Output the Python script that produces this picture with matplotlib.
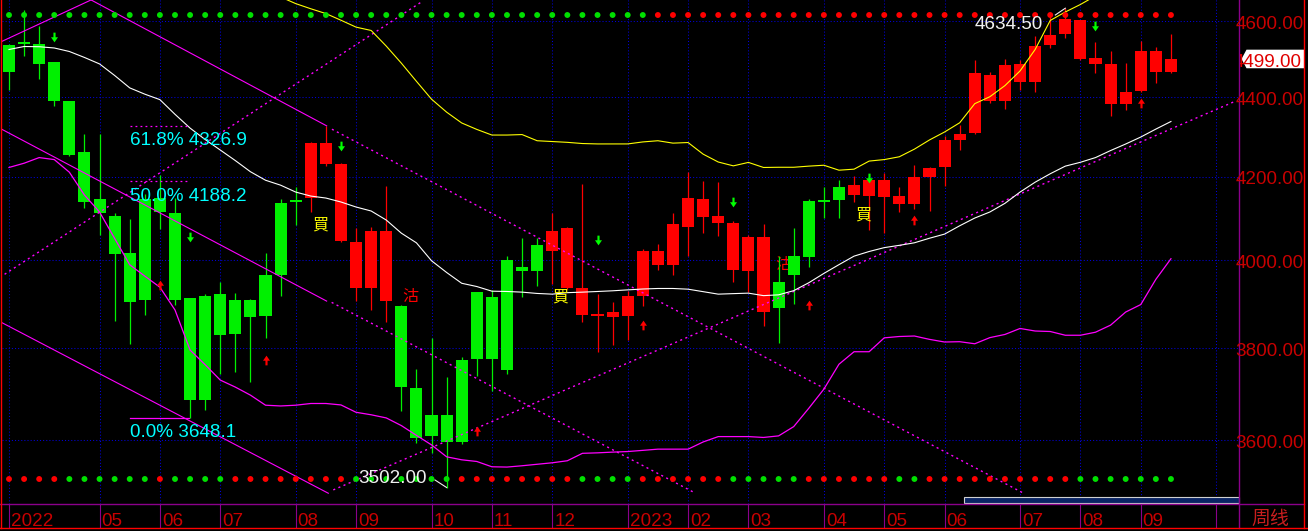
import matplotlib
matplotlib.use("Agg")
import matplotlib.pyplot as plt
import numpy as np
from matplotlib.patches import Polygon, Rectangle
from matplotlib.lines import Line2D
from matplotlib.transforms import Bbox, IdentityTransform, blended_transform_factory

plt.rcParams['font.family'] = ['Liberation Sans', 'Noto Sans CJK SC', 'DejaVu Sans']

W, H = 1308, 531
nan = np.nan

# weekly candles
opens = [4537.1, 4538.9, 4538.9, 4489.9, 4390.8, 4260.0, 4145.3, 4104.3, 4016.9, 4145.3,
         4147.0, 4112.3, 3912.0, 3916.6, 3921.1, 3907.5, 3907.5, 3964.3, 4135.7, 4141.2,
         4147.0, 4230.8, 4044.8, 3934.8, 3934.8, 3905.2, 3893.9, 3711.5, 3652.8, 3652.8,
         3772.4, 3925.7, 3914.4, 4000.7, 3984.8, 4034.6, 4020.1, 3934.8, 3874.1, 3872.3,
         3869.6, 3871.2, 3917.3, 3989.3, 3987.7, 4078.5, 4102.6, 4088.2, 3976.4, 3974.1,
         3880.9, 3948.4, 4010.4, 4140.5, 4140.5, 4174.2, 4154.9, 4152.5, 4150.1, 4133.3,
         4133.3, 4198.3, 4223.3, 4290.8, 4309.0, 4389.0, 4389.0, 4438.3, 4438.3, 4535.3,
         4564.1, 4497.8, 4484.7, 4381.5, 4381.5, 4414.3, 4464.5, 4464.5]
highs = [4539.7, 4629.7, 4586.9, 4491.0, 4391.0, 4305.8, 4305.8, 4111.5, 4097.1, 4157.3,
         4204.0, 4147.7, 3913.0, 3921.1, 3950.0, 3923.4, 3909.8, 4016.9, 4145.3, 4173.5,
         4285.8, 4326.5, 4233.0, 4075.4, 4077.8, 4176.6, 3896.0, 3752.8, 3821.1, 3736.1,
         3779.6, 3927.0, 3930.2, 4010.4, 4051.7, 4051.7, 4111.5, 4077.8, 4181.6, 3921.1,
         3902.9, 3927.9, 4024.9, 4036.9, 4111.5, 4210.8, 4188.7, 4186.3, 4092.3, 4058.5,
         4085.0, 4010.4, 4075.4, 4145.3, 4174.2, 4191.1, 4200.8, 4200.8, 4208.3, 4174.2,
         4228.3, 4223.3, 4300.8, 4328.3, 4495.2, 4463.7, 4497.8, 4495.2, 4560.7, 4618.9,
         4634.5, 4604.0, 4545.0, 4518.7, 4487.3, 4547.6, 4531.9, 4565.9]
lows = [4417.3, 4505.6, 4447.2, 4376.5, 4250.0, 4122.9, 4060.2, 3859.1, 3809.1, 3874.1,
        4073.0, 3896.8, 3648.1, 3664.4, 3742.0, 3747.0, 3725.2, 3821.8, 3916.6, 4082.6,
        4114.7, 4225.8, 4042.0, 3905.2, 3885.4, 3856.8, 3662.2, 3595.0, 3573.1, 3502.0,
        3591.7, 3738.3, 3705.6, 3743.1, 3915.0, 3940.0, 3943.9, 3932.5, 3858.2, 3790.4,
        3805.9, 3817.3, 3894.5, 3978.0, 3965.0, 4008.6, 4064.1, 4056.9, 3949.1, 3925.0,
        3849.1, 3811.4, 3899.1, 3983.2, 4099.5, 4099.5, 4138.1, 4071.3, 4064.1, 4114.0,
        4121.2, 4116.4, 4176.6, 4265.8, 4305.0, 4384.0, 4369.0, 4419.0, 4412.1, 4529.2,
        4555.4, 4496.0, 4461.1, 4351.5, 4366.5, 4413.0, 4435.7, 4461.9]
closes = [4464.5, 4538.0, 4485.5, 4389.0, 4254.0, 4138.8, 4112.3, 4015.2, 3903.6, 3908.2,
          4113.2, 3908.2, 3686.1, 3686.1, 3828.6, 3830.9, 3869.6, 3871.8, 3964.3, 4139.3,
          4283.3, 4283.3, 4230.8, 4041.7, 4068.9, 4068.9, 3714.3, 3605.7, 3610.0, 3597.1,
          3597.1, 3775.2, 3775.2, 3751.8, 3974.1, 3973.4, 4068.2, 4075.4, 3934.8, 3874.1,
          3880.3, 3916.6, 4020.1, 4020.1, 4085.0, 4147.7, 4145.3, 4104.3, 4088.2, 4053.7,
          4053.7, 3890.0, 3965.0, 4008.0, 4138.0, 4142.9, 4179.0, 4191.1, 4191.1, 4152.5,
          4198.3, 4220.8, 4290.8, 4305.8, 4461.1, 4455.8, 4482.1, 4484.7, 4534.5, 4563.3,
          4605.4, 4602.7, 4500.4, 4484.7, 4413.5, 4518.7, 4518.7, 4499.0]

ma_white = [4524, 4531.9, 4531.3, 4528, 4518.7, 4503, 4486, 4455.8, 4423.6, 4407.4,
            4393.3, 4355.8, 4320.8, 4292, 4265.8, 4239.5, 4212, 4191.1, 4179, 4162.2,
            4152.5, 4147.7, 4138.1, 4126, 4116.4, 4094.7, 4063.4, 4040.5, 3998.4, 3971.1,
            3946.1, 3938.6, 3927.9, 3927.2, 3925.7, 3922.7, 3921.1, 3924.5, 3925.7, 3927.2,
            3928.8, 3930.9, 3932.9, 3934.1, 3934.1, 3932.5, 3926.8, 3921.1, 3922.3, 3923.4,
            3917.7, 3919.5, 3929.1, 3947.3, 3968.9, 3989.3, 4009.2, 4020.1, 4029.2, 4034.6,
            4040.6, 4051.4, 4061.2, 4081, 4099.5, 4114, 4134.9, 4162.2, 4186.3, 4207,
            4225.8, 4235.3, 4247, 4264.5, 4280.8, 4298.3, 4318.3, 4337.5]
band_yellow = [nan] * 18 + [
            4665, 4647, 4633, 4620, 4602, 4583.5, 4574.6, 4533, 4488, 4440.6,
            4394.5, 4361.3, 4333.8, 4317.5, 4303.3, 4303.3, 4304.5, 4289, 4287, 4285,
            4282, 4281, 4281, 4281, 4286, 4289, 4283, 4284.5, 4255.5, 4236,
            4226.5, 4235, 4222.5, 4223, 4223, 4225.8, 4228, 4215.8, 4218.3, 4238.3,
            4242, 4249, 4268, 4291, 4311, 4334.3, 4383, 4400.8, 4429.5, 4467.6,
            4524, 4601.4, 4624.3, 4644.6, 4668, 4690, 4712, 4735, 4758, 4780]
band_magenta = [4222.5, 4233, 4247, 4242, 4210.8, 4155, 4114, 4051, 3989, 3962.7,
                3937, 3885, 3795, 3762.6, 3729, 3713.7, 3696.3, 3674.6, 3673, 3674.6,
                3678.3, 3678.3, 3675.2, 3659.4, 3654.1, 3647.4, 3631.1, 3610.4, 3590.3, 3565.4,
                3559.2, 3555.7, 3544.7, 3544.1, 3546.8, 3549.9, 3553, 3557.2, 3572.7, 3573.7,
                3575.2, 3576.4, 3578.9, 3581.4, 3581.4, 3581.4, 3596.5, 3607.8, 3607.8, 3607.8,
                3606, 3609.3, 3628.9, 3668, 3709.3, 3763.7, 3791.3, 3791.3, 3822.2, 3825.2,
                3826.3, 3818.8, 3812.9, 3813.6, 3809, 3822.7, 3829.8, 3843.2, 3837.5, 3836.4,
                3828, 3828, 3834.8, 3850.7, 3880.3, 3897.3, 3955.2, 4003.1]

top_signal = 'G' * 43 + 'R' * 35
bottom_signal = ('RRRR' + 'GGGGGG' + 'R' + 'GGGG' + 'RRRRRRRR' + 'GGGGGGG' + 'RRRRRRRR'
                 + 'GGGG' + 'RRRRRR' + 'GGGGG' + 'RRRRRR' + 'GG' + 'RRRRRRRRRR' + 'GGGGGGG')

month_idx = [0, 6, 10, 14, 19, 23, 28, 32, 36, 41, 45, 49, 54, 58, 62, 67, 71, 75, 80]
month_lbl = ['2022', '05', '06', '07', '08', '09', '10', '11', '12', '2023',
             '02', '03', '04', '05', '06', '07', '08', '09', '']

buy_arrow_idx = [10, 17, 31, 42, 53, 60, 75]
buy_arrow_px = [3943.2, 3773.5, 3620.2, 3851.8, 3896.1, 4093.9, 4385.3]
sell_arrow_idx = [3, 12, 22, 39, 48, 57, 72]
sell_arrow_px = [4556.8, 4054.9, 4276.5, 4047.7, 4137.3, 4197.6, 4586.1]

buy_tag_idx = [20.6, 36.55, 56.6]
buy_tag_px = [4082.6, 3914.4, 4106.7]
sell_tag_idx = [26.57, 51.3]
sell_tag_px = [3916.6, 3989.3]

fib_pct = ['61.8%', '50.0%', '0.0%']
fib_val = [4326.9, 4188.2, 3648.1]

# hand-drawn trend lines (candle index, price)
trend_solid = [([-0.5, 5.6], [4545, 4660]),
               ([5.3, 21.05], [4660, 4326.5]),
               ([-0.5, 21.05], [4318.3, 3905.2]),
               ([-0.5, 21.16], [3856.8, 3490.3])]
trend_dotted = [([21.4, 67.2], [4318, 3490.9]),
                ([21.38, 45.46], [3902.3, 3490.9]),
                ([21.49, 81.25], [3497.1, 4389]),
                ([-0.6, 27.35], [3959.8, 4652])]

price_ticks = [4600, 4400, 4200, 4000, 3800, 3600]
last_close = 4499.00
hi_idx, hi_val = 70, 4634.50
lo_idx, lo_val = 29, 3502.00

AXRED = '#c80000'
PURPLE = '#8b008b'
MAG = '#ff00ff'
FS = 13.6

fig = plt.figure(figsize=(W / 100, H / 100), dpi=100, facecolor='black')
ax = fig.add_axes([2 / W, 27 / H, 1237 / W, 504 / H])
ax.set_yscale('log')
ax.set_xlim(-0.464, 81.51)
ax.set_ylim(3468.4, 4656.8)
ax.set_axis_off()

# grid
for p in price_ticks:
    ax.axhline(p, color='#0000d8', lw=0.75, ls=(0, (1, 2)), zorder=1)
for i in month_idx:
    ax.axvline(i, color='#0000d8', lw=0.75, ls=(0, (1, 2)), zorder=1)

# trend lines
for xs, ys in trend_solid:
    ax.plot(xs, ys, color=MAG, lw=0.8, zorder=3)
for xs, ys in trend_dotted:
    ax.plot(xs, ys, color=MAG, lw=1.0, ls=(0, (1.5, 2.5)), zorder=3)

# candles
x = np.arange(len(opens))
o = np.array(opens); c = np.array(closes)
hi = np.array(highs); lo = np.array(lows)
col = np.where(c >= o, '#ff0000', '#00f000')
ax.vlines(x, lo, hi, colors=col, lw=0.9, zorder=2)
bot = np.minimum(o, c)
top = np.maximum(np.maximum(o, c), bot * 1.0011)
ax.bar(x, top - bot, bottom=bot, width=0.8, color=col, lw=0, zorder=2)

# indicator lines
ax.plot(x, ma_white, color='white', lw=0.8, zorder=3)
ax.plot(x, band_yellow, color='#ffff00', lw=0.8, zorder=3)
ax.plot(x, band_magenta, color=MAG, lw=0.9, zorder=3)

# fibonacci
for k, (pct, val) in enumerate(zip(fib_pct, fib_val)):
    ls = '-' if k == 2 else (0, (1.5, 2.5))
    ax.plot([8.0, 11.9], [val, val], color=MAG, lw=0.9, ls=ls, zorder=3)
    ax.annotate(f'{pct} {val:.1f}', xy=(8.0, val), xytext=(0, -19.5),
                textcoords='offset pixels', ha='left', va='baseline',
                color='#00ffff', fontsize=FS, zorder=6)

# signal dot rows
tr_top = blended_transform_factory(ax.transData, ax.transAxes)
ax.scatter(x, np.full(len(x), 1 - 15 / 504), s=18, lw=0, transform=tr_top, zorder=5,
           c=['#00e000' if s == 'G' else '#ff0000' for s in top_signal], clip_on=False)
ax.scatter(x, np.full(len(x), 1 - 479 / 504), s=18, lw=0, transform=tr_top, zorder=5,
           c=['#00e000' if s == 'G' else '#ff0000' for s in bottom_signal], clip_on=False)

# arrows
down_arrow = [(-0.22, 1), (0.22, 1), (0.22, 0.05), (0.72, 0.05), (0, -1), (-0.72, 0.05), (-0.22, 0.05)]
up_arrow = [(px, -py) for px, py in down_arrow]
ax.plot(sell_arrow_idx, sell_arrow_px, ls='', marker=down_arrow, ms=7, color='#00ff00',
        mew=0, zorder=5)
ax.plot(buy_arrow_idx, buy_arrow_px, ls='', marker=up_arrow, ms=7, color='#ff0000',
        mew=0, zorder=5)

# buy / sell tags
for i, p in zip(buy_tag_idx, buy_tag_px):
    ax.text(i, p, '買', color='#ffff00', fontsize=11.5, ha='center', va='center',
            family=['Noto Sans CJK TC'], zorder=5)
for i, p in zip(sell_tag_idx, sell_tag_px):
    ax.text(i, p, '沽', color='#ff0000', fontsize=11.5, ha='center', va='center',
            family=['Noto Sans CJK TC'], zorder=1.5)

# high / low labels
fig.canvas.draw()
for idx, val, dx, dy, lx, ly in [(hi_idx, hi_val, -22, -21, -10, -6.8),
                                 (lo_idx, lo_val, -20, 4.2, -11.6, 7.5)]:
    ax.annotate(f'{val:.2f}', xy=(idx, val), xytext=(dx, dy), textcoords='offset pixels',
                ha='right', va='baseline', color='#f0f0f0', fontsize=FS, zorder=6)
    px0, py0 = ax.transData.transform((idx, val))
    fig.add_artist(Line2D([px0 + lx, px0], [py0 + ly, py0], color='#f0f0f0', lw=0.8,
                          transform=IdentityTransform()))

# right price axis
for p in price_ticks:
    _, yp = ax.transData.transform((0, p))
    fig.text(1235.5 / W, (yp - 7.8) / H, f'{p:.2f}', ha='left', va='baseline',
             color=AXRED, fontsize=FS)

# last close box
_, yc = ax.transData.transform((0, last_close))
fig.add_artist(Polygon([(1241.5, yc), (1246.5, yc + 9.3), (1304, yc + 9.3), (1304, yc - 9.3),
                        (1246.5, yc - 9.3)], closed=True, facecolor='white', edgecolor='none',
                       transform=IdentityTransform()))
t = fig.text(1301.5 / W, (yc - 7.7) / H, f'{last_close:.2f}', ha='right', va='baseline',
             color='#e00000', fontsize=FS)
t.set_clip_on(True)
t.set_clip_box(Bbox.from_extents(1239.8, yc - 9.3, 1304, yc + 9.3))

# date band
tr_date = blended_transform_factory(ax.transData, fig.transFigure)
for i, lbl in zip(month_idx, month_lbl):
    ax.plot([i, i], [1 - 504 / H, 1 - 527 / H], color=PURPLE, lw=0.8, transform=tr_date,
            clip_on=False)
    ax.text(i + 0.13, 1 - 526.3 / H, lbl, transform=tr_date, ha='left', va='baseline',
            color=AXRED, fontsize=FS, clip_on=False)
fig.text(1251.5 / W, 1 - 518.5 / H, '周线', ha='left', va='center', color='#c81e1e',
         fontsize=FS, family=['Noto Sans CJK SC'])

# scroll bar
fig.add_artist(Rectangle((964, H - 502.7), 274.7, 5.7, facecolor='#0a2464',
                         edgecolor='#d0d0d0', lw=0.8, transform=IdentityTransform()))

# frame lines
def fline(xs, ys, color, lw=1.0):
    fig.add_artist(Line2D([v / W for v in xs], [1 - v / H for v in ys], color=color, lw=lw,
                          transform=fig.transFigure))

fline([1239.3, 1239.3], [0, 528], PURPLE)
fline([0, 1304], [504.3, 504.3], PURPLE)
fline([0.5, 0.5], [0, 528], '#ff0000')
fline([1304, 1304], [0, 528], '#ff0000')
fline([0, 1308], [528.3, 528.3], '#ff0000')

fig.savefig('out.png', dpi=100, facecolor='black')
